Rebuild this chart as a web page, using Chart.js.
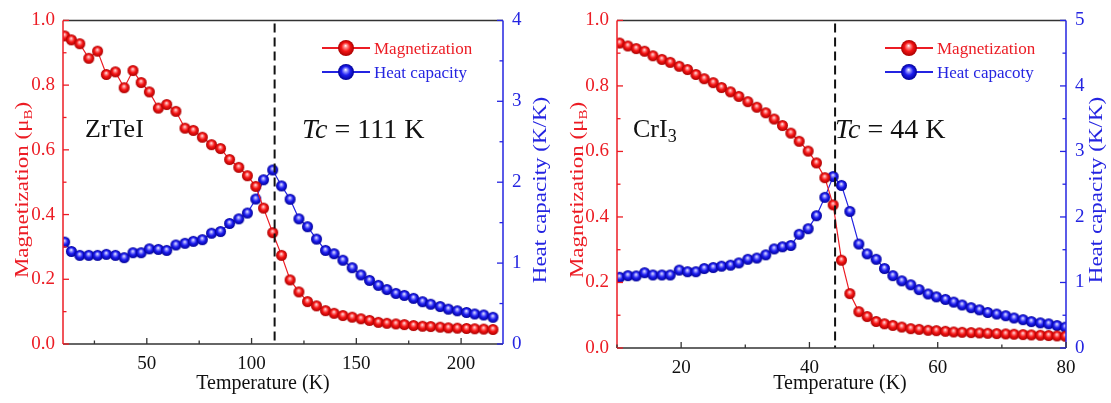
<!DOCTYPE html>
<html>
<head>
<meta charset="utf-8">
<script src="https://cdn.jsdelivr.net/npm/chart.js@4.4.0/dist/chart.umd.min.js"></script>
<style>
  html, body { margin: 0; padding: 0; background: #fff; }
  #wrap { position: relative; width: 1111px; height: 403px; }
  .panel { position: absolute; top: 0; }
</style>
</head>
<body>
<div id="wrap">
  <canvas id="leftChart" class="panel" width="555" height="403" style="left:0"></canvas>
  <canvas id="rightChart" class="panel" width="556" height="403" style="left:555px"></canvas>
</div>
<script>
// ZrTeI (left panel)
const tempZr = [10.8, 14, 18, 22.3, 26.5, 30.7, 35, 39.2, 43.4, 47.3,
  51.2, 55.5, 59.5, 63.9, 68.2, 72.2, 76.5, 80.9, 85.2, 89.5,
  93.9, 98, 102, 105.7, 110.1, 114.3, 118.4, 122.6, 126.7, 131,
  135.3, 139.4, 143.6, 148, 152.2, 156.3, 160.5, 164.6, 168.9, 172.9,
  177.3, 181.6, 185.5, 190, 193.9, 198.2, 202.6, 206.5, 210.8, 215.2];
const magZr = [0.952, 0.940, 0.928, 0.883, 0.905, 0.833, 0.841, 0.792, 0.845, 0.808,
  0.779, 0.729, 0.740, 0.719, 0.667, 0.660, 0.639, 0.616, 0.604, 0.570,
  0.546, 0.520, 0.487, 0.420, 0.344, 0.274, 0.198, 0.161, 0.131, 0.118,
  0.103, 0.095, 0.088, 0.083, 0.078, 0.073, 0.067, 0.064, 0.062, 0.060,
  0.057, 0.055, 0.054, 0.052, 0.050, 0.049, 0.048, 0.047, 0.046, 0.045];
const heatZr = [1.260, 1.144, 1.096, 1.096, 1.096, 1.108, 1.096, 1.067, 1.128, 1.128,
  1.176, 1.169, 1.157, 1.224, 1.245, 1.269, 1.290, 1.369, 1.390, 1.490,
  1.547, 1.619, 1.792, 2.030, 2.151, 1.954, 1.789, 1.547, 1.450, 1.297,
  1.157, 1.116, 1.036, 0.943, 0.854, 0.786, 0.725, 0.673, 0.625, 0.601,
  0.564, 0.523, 0.492, 0.463, 0.431, 0.411, 0.390, 0.371, 0.359, 0.330];

// CrI3 (right panel)
const tempCr = [10.4, 11.7, 13.0, 14.3, 15.6, 17.0, 18.3, 19.7, 21.0, 22.3,
  23.6, 25.0, 26.3, 27.7, 29.0, 30.4, 31.8, 33.2, 34.5, 35.8,
  37.1, 38.4, 39.8, 41.1, 42.4, 43.7, 45.0, 46.3, 47.7, 49.0,
  50.4, 51.7, 53.0, 54.4, 55.8, 57.1, 58.5, 59.8, 61.2, 62.5,
  63.8, 65.2, 66.5, 67.8, 69.2, 70.6, 71.9, 73.3, 74.6, 76.0,
  77.3, 78.6, 79.9];
const magCr = [0.931, 0.922, 0.914, 0.906, 0.892, 0.881, 0.872, 0.860, 0.850, 0.835,
  0.822, 0.810, 0.795, 0.782, 0.768, 0.752, 0.735, 0.718, 0.699, 0.679,
  0.656, 0.631, 0.601, 0.565, 0.520, 0.437, 0.268, 0.166, 0.111, 0.096,
  0.081, 0.074, 0.069, 0.064, 0.059, 0.057, 0.054, 0.053, 0.051, 0.049,
  0.048, 0.047, 0.046, 0.045, 0.044, 0.043, 0.042, 0.041, 0.040, 0.039,
  0.038, 0.037, 0.036];
const heatCr = [1.079, 1.104, 1.100, 1.149, 1.115, 1.115, 1.115, 1.189, 1.164, 1.164,
  1.213, 1.228, 1.249, 1.264, 1.299, 1.354, 1.373, 1.422, 1.512, 1.545,
  1.565, 1.736, 1.821, 2.019, 2.299, 2.617, 2.482, 2.085, 1.587, 1.437,
  1.354, 1.213, 1.104, 1.025, 0.965, 0.891, 0.825, 0.781, 0.742, 0.701,
  0.657, 0.616, 0.582, 0.542, 0.518, 0.493, 0.458, 0.433, 0.403, 0.384,
  0.369, 0.343, 0.318];

// ticks
const xTicksZr = [50, 100, 150, 200];
const xMinorZr = [25, 75, 125, 175];
const xTicksCr = [20, 40, 60, 80];
const xMinorCr = [10, 30, 50, 70];
const magTicks = [0, 0.2, 0.4, 0.6, 0.8, 1.0];
const magMinor = [0.1, 0.3, 0.5, 0.7, 0.9];
const heatTicksZr = [0, 1, 2, 3, 4];
const heatMinorZr = [0.5, 1.5, 2.5, 3.5];
const heatTicksCr = [0, 1, 2, 3, 4, 5];
const heatMinorCr = [0.5, 1.5, 2.5, 3.5, 4.5];

const RED = 'rgb(236,28,36)';
const BLUE = 'rgb(36,36,225)';
const SERIF = '"Liberation Serif", "DejaVu Serif", serif';

function makeBall(r, light, mid, dark) {
  const c = document.createElement('canvas');
  const s = Math.ceil(r * 2) + 2;
  c.width = s; c.height = s;
  const g = c.getContext('2d');
  const cx = s / 2, cy = s / 2;
  const grad = g.createRadialGradient(cx - r * 0.05, cy - r * 0.3, 0, cx, cy, r);
  grad.addColorStop(0, '#ffffff');
  grad.addColorStop(0.2, light);
  grad.addColorStop(0.55, mid);
  grad.addColorStop(1, dark);
  g.fillStyle = grad;
  g.beginPath(); g.arc(cx, cy, r, 0, Math.PI * 2); g.fill();
  return c;
}
const redBall = makeBall(5.5, 'rgb(255,150,150)', 'rgb(245,20,20)', 'rgb(170,0,0)');
const blueBall = makeBall(5.5, 'rgb(160,160,255)', 'rgb(30,30,240)', 'rgb(0,0,150)');
const redBallBig = makeBall(8, 'rgb(255,150,150)', 'rgb(245,20,20)', 'rgb(170,0,0)');
const blueBallBig = makeBall(8, 'rgb(160,160,255)', 'rgb(30,30,240)', 'rgb(0,0,150)');

function line(ctx, x1, y1, x2, y2, color, w) {
  ctx.strokeStyle = color; ctx.lineWidth = w;
  ctx.beginPath(); ctx.moveTo(x1, y1); ctx.lineTo(x2, y2); ctx.stroke();
}

// draw a run of text pieces, each {t, size, style, dy}
function drawRich(ctx, parts, x, y, align, color) {
  let w = 0;
  parts.forEach(p => {
    ctx.font = (p.style || '') + ' ' + p.size + 'px ' + SERIF;
    p.w = ctx.measureText(p.t).width;
    w += p.w;
  });
  let cx = align === 'center' ? x - w / 2 : x;
  ctx.fillStyle = color;
  ctx.textAlign = 'left';
  ctx.textBaseline = 'alphabetic';
  parts.forEach(p => {
    ctx.font = (p.style || '') + ' ' + p.size + 'px ' + SERIF;
    ctx.fillText(p.t, cx, y + (p.dy || 0));
    cx += p.w;
  });
}

// vertical title, glyphs a bit narrow like the original
function drawVertical(ctx, parts, x, y, color) {
  ctx.save();
  ctx.translate(x, y);
  ctx.rotate(-Math.PI / 2);
  ctx.scale(1, 0.8);
  drawRich(ctx, parts, 0, 0, 'center', color);
  ctx.restore();
}

const decor = {
  id: 'decor',
  afterDatasetsDraw(chart, args, o) {
    const ctx = chart.ctx, a = chart.chartArea;
    const sx = chart.scales.x, sy = chart.scales.y, sy1 = chart.scales.y1;
    ctx.save();
    // transition temperature
    const px = sx.getPixelForValue(o.tc);
    ctx.setLineDash([9, 5]);
    line(ctx, px, a.top + 3, px, a.bottom, '#111', 2);
    ctx.setLineDash([]);
    // frame
    line(ctx, a.left, a.top, a.right, a.top, '#333', 1.5);
    line(ctx, a.left, a.bottom, a.right, a.bottom, '#333', 1.5);
    line(ctx, a.left, a.top, a.left, a.bottom, RED, 1.5);
    line(ctx, a.right, a.top, a.right, a.bottom, BLUE, 1.5);
    // inward ticks
    o.xMajor.forEach(v => { const p = sx.getPixelForValue(v); line(ctx, p, a.bottom, p, a.bottom - 6, '#333', 1.3); });
    o.xMinor.forEach(v => { const p = sx.getPixelForValue(v); line(ctx, p, a.bottom, p, a.bottom - 3.5, '#333', 1.3); });
    magTicks.forEach(v => { const p = sy.getPixelForValue(v); line(ctx, a.left, p, a.left + 6, p, RED, 1.3); });
    magMinor.forEach(v => { const p = sy.getPixelForValue(v); line(ctx, a.left, p, a.left + 3.5, p, RED, 1.3); });
    o.yMajor.forEach(v => { const p = sy1.getPixelForValue(v); line(ctx, a.right, p, a.right - 6, p, BLUE, 1.3); });
    o.yMinor.forEach(v => { const p = sy1.getPixelForValue(v); line(ctx, a.right, p, a.right - 3.5, p, BLUE, 1.3); });
    ctx.restore();
  },
  afterDraw(chart, args, o) {
    const ctx = chart.ctx;
    ctx.save();
    // axis titles
    drawRich(ctx, [{t: 'Temperature (K)', size: 20}], o.xTitleX, 389, 'center', '#111');
    drawVertical(ctx, [{t: 'Magnetization (\u03bc', size: 23}, {t: 'B', size: 15, dy: 5}, {t: ')', size: 23}], o.yTitleX, 190, RED);
    drawVertical(ctx, [{t: 'Heat capacity (K/K)', size: 23}], o.y1TitleX, 190, BLUE);
    // labels in the plot
    drawRich(ctx, o.name, o.nameX, 137, 'left', '#111');
    drawRich(ctx, [{t: 'Tc', size: 28, style: 'italic'}, {t: ' = ' + o.tc + ' K', size: 28}], o.tcX, 138, 'left', '#111');
    // legend
    const rows = [
      {label: 'Magnetization', color: RED, img: redBallBig, y: 48},
      {label: o.heatLabel, color: BLUE, img: blueBallBig, y: 72}
    ];
    rows.forEach(r => {
      line(ctx, o.legX, r.y, o.legX + 48, r.y, r.color, 2);
      ctx.drawImage(r.img, o.legX + 24 - r.img.width / 2, r.y - r.img.height / 2);
      drawRich(ctx, [{t: r.label, size: 17}], o.legX + 52, r.y + 6, 'left', r.color);
    });
    ctx.restore();
  }
};

function makeChart(id, temps, mags, heats, opt) {
  const ctx = document.getElementById(id).getContext('2d');
  const data = {
    datasets: [
      {
        label: 'Magnetization',
        data: temps.map((t, i) => ({x: t, y: mags[i]})),
        yAxisID: 'y',
        showLine: true,
        borderColor: RED,
        borderWidth: 1.2,
        pointStyle: redBall,
        pointRadius: 5,
        order: 0
      },
      {
        label: opt.heatLabel,
        data: temps.map((t, i) => ({x: t, y: heats[i]})),
        yAxisID: 'y1',
        showLine: true,
        borderColor: BLUE,
        borderWidth: 1.2,
        pointStyle: blueBall,
        pointRadius: 5,
        order: 1
      }
    ]
  };
  const tickFont = {family: SERIF, size: 19};
  const config = {
    type: 'scatter',
    data: data,
    options: {
      responsive: false,
      devicePixelRatio: 1,
      animation: false,
      layout: {padding: {top: 13, left: 0, right: 0, bottom: 0}},
      plugins: {
        legend: {display: false},
        tooltip: {enabled: false},
        decor: opt
      },
      scales: {
        x: {
          type: 'linear', min: opt.xMin, max: opt.xMax,
          grid: {display: false, drawTicks: false},
          border: {display: false},
          afterBuildTicks: s => { s.ticks = opt.xMajor.map(v => ({value: v})); },
          afterFit: s => { s.height = opt.xHeight; },
          ticks: {font: tickFont, color: '#111', padding: 9, maxRotation: 0}
        },
        y: {
          position: 'left', min: 0, max: 1,
          grid: {display: false, drawTicks: false},
          border: {display: false},
          afterBuildTicks: s => { s.ticks = magTicks.map(v => ({value: v})); },
          afterFit: s => { s.width = opt.yWidth; },
          ticks: {font: tickFont, color: RED, padding: 8, callback: v => v.toFixed(1)}
        },
        y1: {
          position: 'right', min: 0, max: opt.y1Max,
          grid: {display: false, drawTicks: false},
          border: {display: false},
          afterBuildTicks: s => { s.ticks = opt.yMajor.map(v => ({value: v})); },
          afterFit: s => { s.width = opt.y1Width; },
          ticks: {font: tickFont, color: BLUE, padding: 9, callback: v => String(v)}
        }
      }
    },
    plugins: [decor]
  };
  return new Chart(ctx, config);
}

makeChart('leftChart', tempZr, magZr, heatZr, {
  tc: 111, xMin: 10, xMax: 220, y1Max: 4,
  xMajor: xTicksZr, xMinor: xMinorZr, yMajor: heatTicksZr, yMinor: heatMinorZr,
  xHeight: 59, yWidth: 63, y1Width: 52,
  xTitleX: 263, yTitleX: 28, y1TitleX: 546,
  name: [{t: 'ZrTeI', size: 26}], nameX: 85, tcX: 302,
  legX: 322, heatLabel: 'Heat capacity'
});

makeChart('rightChart', tempCr, magCr, heatCr, {
  tc: 44, xMin: 10, xMax: 80, y1Max: 5,
  xMajor: xTicksCr, xMinor: xMinorCr, yMajor: heatTicksCr, yMinor: heatMinorCr,
  xHeight: 55, yWidth: 62, y1Width: 45,
  xTitleX: 285, yTitleX: 28, y1TitleX: 547,
  name: [{t: 'CrI', size: 26}, {t: '3', size: 18, dy: 5}], nameX: 78, tcX: 280,
  legX: 330, heatLabel: 'Heat capacoty'
});
</script>
</body>
</html>
